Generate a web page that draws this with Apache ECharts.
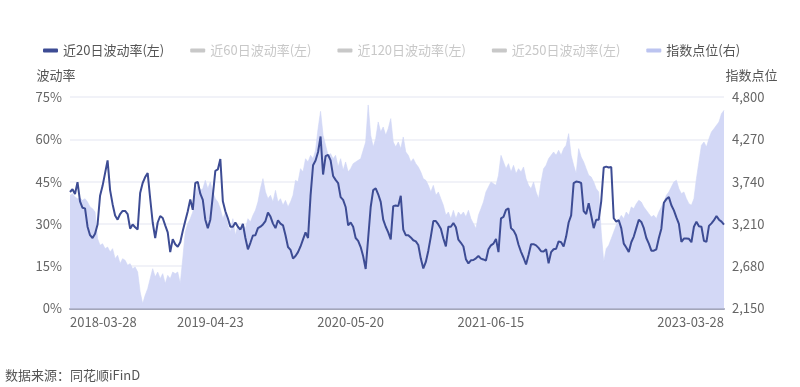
<!DOCTYPE html>
<html>
<head>
<meta charset="utf-8">
<script src="https://cdn.jsdelivr.net/npm/echarts@6/dist/echarts.min.js"></script>
<style>
html,body{margin:0;padding:0;background:#fff;}
#c{width:800px;height:387px;}
</style>
</head>
<body>
<div id="c"></div>
<script>
// ---- data (weekly samples) ----
const startDate = '2018-03-28';
const tickLabels = ['2018-03-28', '2019-04-23', '2020-05-20', '2021-06-15', '2023-03-28'];
const seriesNames = ['近20日波动率(左)', '近60日波动率(左)', '近120日波动率(左)', '近250日波动率(左)', '指数点位(右)'];

const vol20 = [
  41.3, 42.3, 40.6, 44.8, 38, 35.7, 35.5, 29, 26, 25,
  26.5, 29.8, 40, 43.5, 48, 52.5, 42, 37, 33, 31.5,
  33.5, 34.6, 34.6, 33.5, 28.3, 29.8, 28.8, 28, 41, 44.5,
  46.6, 48, 39, 30.5, 25, 30.5, 32.8, 32.1, 29.5, 27,
  20, 24.6, 22.8, 21.9, 23.5, 27.5, 31, 34.5, 38.7, 35,
  44.5, 44.9, 40.7,
  38.5, 31.5, 28.5, 31.5, 40, 48.8, 49.3, 53, 38, 34.5,
  32, 29, 29, 30.5, 29, 28, 30, 25, 21, 23.3,
  25.9, 26, 28.5, 29, 29.8, 31, 34, 32.6, 30.1, 28.5,
  31.3, 30.1, 29.5, 26, 21.8, 20.8, 17.7, 18.6, 20, 22,
  24.5, 27, 25, 40, 50.8, 52.5, 55.5, 61, 47.5, 54,
  54.5,
  52.5, 47, 45.6, 44.5, 39.5, 38.5, 36, 29.5, 30.5, 29,
  25, 24, 21.8, 18.5, 14, 25, 36, 42, 42.6, 40.5,
  37.8, 31.5, 29, 27, 24.5, 36.3, 36.5, 36.3, 40, 28,
  26, 26, 25.2, 24.2, 23.8, 22.5, 17.7, 14.2, 16.5, 20.5,
  25.5, 31, 31, 29.8, 28.3, 24.8, 22, 29, 29, 30.3,
  28.8, 24.4,
  23.3, 22, 17.5, 16, 17.1, 17.2, 17.8, 18.6, 17.7, 17.4,
  17, 21, 22.4, 23, 24.7, 20, 32, 32.5, 35, 35.5,
  28.5, 27.7, 26, 22.6, 20.1, 18, 15.6, 19, 22.8, 22.8,
  22.4, 21.5, 20.3, 20.2, 21, 16, 20, 21, 21.2, 23.8,
  23.5, 22, 25.5, 30.5, 33, 44.5, 45, 44.9, 44.5, 34.5,
  33.5, 37.3,
  33, 28.5, 31.5, 31.5, 38, 50, 50.3, 50, 50.2, 32,
  30.8, 31.3, 28.5, 23, 21.6, 20, 23.5, 25.5, 28.5, 31.5,
  30.7, 28.5, 25, 23, 20.5, 20.5, 21, 25, 28.3, 37.5,
  38.8, 39.5, 36.6, 34.8, 32.3, 30, 23.6, 24.8, 24.8, 24.7,
  23.5, 29, 30.8, 29.2, 29, 24, 23.6, 29.3, 30.2, 31.3,
  32.8, 31.5, 30.8, 29.7
];

const indexPts = [
  3568, 3589, 3547, 3526, 3534, 3505, 3526, 3484, 3422, 3401,
  3359, 3025, 2941, 2962, 2900, 2920, 2858, 2900, 2774, 2816,
  2712, 2774, 2753, 2691, 2712, 2649, 2670, 2607, 2356, 2210,
  2315, 2398, 2524, 2649, 2544, 2607, 2524, 2586, 2461, 2565,
  2524, 2607, 2586, 2607, 2461, 2774, 3108, 3213, 3275, 3359,
  3568, 3693, 3630,
  3651, 3756, 3651, 3735, 3610, 3526, 3484, 3401, 3275, 3359,
  3192, 3108, 3275, 3066, 3192, 3108, 3192, 3150, 3275, 3234,
  3317, 3380, 3484, 3651, 3777, 3610, 3526, 3568, 3484, 3630,
  3484, 3526, 3443, 3505, 3422, 3484, 3568, 3756, 3735, 3902,
  3860, 4027, 3986, 4069, 4027, 4132, 4403, 4620, 4320, 4194,
  4069,
  4090, 4027, 4069, 3923, 4027, 3881, 3986, 3860, 3902, 3965,
  3986, 4006, 4027, 4132, 4236, 4700, 4320, 4173, 4278, 4487,
  4362, 4424, 4320, 4403, 4529, 4236, 4173, 4236, 4153, 4299,
  4111, 4069, 3986, 4027, 3965, 3923, 3860, 3777, 3756, 3693,
  3610, 3693, 3568, 3610, 3526, 3443, 3317, 3359, 3275, 3380,
  3275, 3359,
  3317, 3359, 3296, 3380, 3275, 3213, 3150, 3317, 3401, 3484,
  3610, 3672, 3735, 3714, 3693, 3819, 4069, 3986, 3902, 3965,
  3860, 3944, 3839, 3902, 3860, 3923, 3777, 3693, 3651, 3735,
  3610, 3526, 3735, 3902, 3944, 4027, 4069, 4111, 4069, 4132,
  4069, 4153, 4194, 4341, 4069, 3944, 3839, 4153, 4048, 3986,
  3902, 3819,
  3798, 3735, 3651, 3610, 3108, 2732, 2900, 2941, 3025, 3108,
  3192, 3254, 3317, 3275, 3359, 3317, 3422, 3401, 3463, 3505,
  3484, 3422, 3380, 3338, 3296, 3317, 3275, 3359, 3422, 3484,
  3568, 3610, 3672, 3735, 3756, 3651, 3589, 3610, 3526, 3463,
  3443, 3526, 3777, 3986, 4194, 4236, 4173, 4278, 4362, 4403,
  4445, 4487, 4591, 4633
];
// hidden (legend-deselected) series: nothing visible to read
const vol60 = [];
const vol120 = [];
const vol250 = [];

// ---- weekly date categories; tick-label dates replace the nearest week ----
function fmt(d) {
  const m = String(d.getUTCMonth() + 1).padStart(2, '0');
  const dd = String(d.getUTCDate()).padStart(2, '0');
  return d.getUTCFullYear() + '-' + m + '-' + dd;
}
const categories = [];
{
  const p = startDate.split('-').map(Number);
  let t = Date.UTC(p[0], p[1] - 1, p[2]);
  for (let i = 0; i < vol20.length; i++) { categories.push(fmt(new Date(t))); t += 7 * 864e5; }
  tickLabels.forEach(function (lab) {
    const q = lab.split('-').map(Number);
    const lt = Date.UTC(q[0], q[1] - 1, q[2]);
    let best = 0, bd = Infinity;
    categories.forEach(function (c, i) {
      const r = c.split('-').map(Number);
      const dt = Math.abs(Date.UTC(r[0], r[1] - 1, r[2]) - lt);
      if (dt < bd) { bd = dt; best = i; }
    });
    categories[best] = lab;
  });
}

const chart = echarts.init(document.getElementById('c'));
const FONT = '"Noto Sans CJK SC", "Noto Sans", sans-serif';
chart.setOption({
  animation: false,
  textStyle: { fontFamily: FONT },
  legend: {
    data: seriesNames,
    left: 38,
    top: 39,
    icon: 'roundRect',
    itemWidth: 15,
    itemHeight: 4,
    itemGap: 26,
    textStyle: { fontSize: 13, color: '#555', fontFamily: FONT },
    inactiveColor: '#c8c8c8',
    selected: {
      '近60日波动率(左)': false,
      '近120日波动率(左)': false,
      '近250日波动率(左)': false
    }
  },
  grid: { left: 70, right: 76, top: 97, bottom: 78.5, containLabel: false },
  xAxis: {
    type: 'category',
    data: categories,
    boundaryGap: false,
    axisLine: { lineStyle: { color: '#a3a6ba', width: 2 } },
    axisTick: { show: false },
    axisLabel: {
      color: '#666',
      fontSize: 13,
      margin: 7,
      interval: function (idx, val) { return tickLabels.indexOf(val) >= 0; },
      alignMinLabel: 'left',
      alignMaxLabel: 'right'
    },
    splitLine: { show: false }
  },
  yAxis: [
    {
      type: 'value',
      name: '波动率',
      nameLocation: 'end',
      nameGap: 15,
      nameTextStyle: { color: '#555', fontSize: 13, align: 'center', padding: [0, 28, 0, 0] },
      min: 0, max: 75, interval: 15,
      axisLine: { show: false },
      axisTick: { show: false },
      axisLabel: { color: '#666', fontSize: 13, margin: 8, formatter: '{value}%' },
      splitLine: { lineStyle: { color: '#eceef6', width: 1.5 } }
    },
    {
      type: 'value',
      name: '指数点位',
      nameLocation: 'end',
      nameGap: 15,
      nameTextStyle: { color: '#555', fontSize: 13, align: 'center', padding: [0, 0, 0, 55] },
      min: 2150, max: 4800,
      alignTicks: true,
      axisLine: { show: false },
      axisTick: { show: false },
      axisLabel: {
        color: '#666', fontSize: 13, margin: 8,
        formatter: function (v) { return Math.round(v).toLocaleString('en-US'); }
      },
      splitLine: { show: false }
    }
  ],
  series: [
    {
      name: '指数点位(右)', type: 'line', yAxisIndex: 1, data: indexPts,
      showSymbol: false, symbol: 'none', z: 1,
      color: '#bcc4f0',
      lineStyle: { width: 0.6, color: '#cfd5f5' },
      areaStyle: { color: '#d3d8f6', opacity: 1 }
    },
    {
      name: '近20日波动率(左)', type: 'line', yAxisIndex: 0, data: vol20,
      showSymbol: false, symbol: 'none', z: 3,
      color: '#3d4c94',
      lineStyle: { width: 2, color: '#3d4c94' }
    },
    { name: '近60日波动率(左)', type: 'line', yAxisIndex: 0, data: vol60, showSymbol: false, color: '#e07b39' },
    { name: '近120日波动率(左)', type: 'line', yAxisIndex: 0, data: vol120, showSymbol: false, color: '#5aa469' },
    { name: '近250日波动率(左)', type: 'line', yAxisIndex: 0, data: vol250, showSymbol: false, color: '#c94f6d' }
  ],
  graphic: [
    {
      type: 'text', left: 5, top: 369,
      style: { text: '数据来源：同花顺iFinD', fontSize: 13, fill: '#555', fontFamily: FONT }
    }
  ]
});
</script>
</body>
</html>
